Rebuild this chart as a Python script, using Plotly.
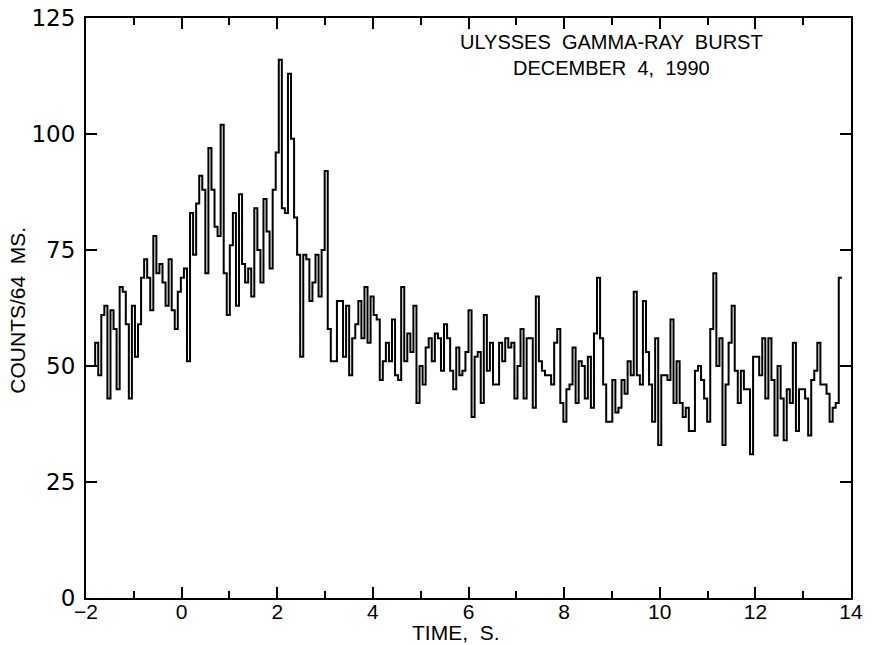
import plotly.graph_objects as go

# 64 ms bin counts (bins start at T0 = -2 s)
t0 = -2.0
bin_width = 0.064
counts = [
    50, 50, 50, 55, 48, 61, 63, 43, 62, 58, 45, 67, 66, 59, 43, 63, 52, 59, 69, 73,
    69, 62, 78, 70, 72, 68, 63, 73, 62, 58, 66, 69, 71,
    51, 83, 74, 85, 91, 88, 70, 97, 88, 80, 78, 102, 70, 61, 76, 83, 63, 87, 72, 68,
    71, 65, 84, 75, 68, 86, 79, 71, 88, 96, 116,
    84, 83, 113, 99, 82, 74, 52, 74, 73, 64, 68, 74, 65, 75, 92, 58, 51, 51, 64, 64,
    52, 63, 48, 56, 59, 64, 56, 67, 55, 65,
    61, 60, 47, 51, 55, 51, 60, 48, 47, 67, 51, 57, 53, 63, 42, 50, 46, 54, 56, 51,
    57, 56, 49, 59, 56, 49, 45, 54, 48, 49, 53, 62,
    39, 52, 53, 42, 61, 49, 55, 46, 46, 55, 51, 56, 54, 55, 43, 50, 58, 43, 56, 56,
    41, 65, 51, 49, 48, 48, 46, 55, 58, 42,
    38, 45, 46, 54, 42, 51, 50, 43, 52, 41, 57, 69, 56, 46, 38, 38, 47, 40, 41, 47,
    44, 51, 48, 66, 48, 46, 64, 53, 46, 38, 56,
    33, 48, 48, 47, 60, 42, 51, 42, 39, 41, 36, 36, 49, 50, 47, 43, 38, 58, 70, 50,
    56, 33, 46, 55, 63, 49, 42, 49, 45, 45, 31, 52,
    52, 48, 56, 43, 56, 47, 35, 50, 43, 34, 45, 42, 55, 36, 45, 45, 43, 35, 47, 49,
    55, 46, 46, 44, 38, 41, 42, 69,
]

x_ticks = [-2, 0, 2, 4, 6, 8, 10, 12, 14]
y_ticks = [0, 25, 50, 75, 100, 125]
title_lines = ["ULYSSES\u00a0\u00a0GAMMA-RAY\u00a0\u00a0BURST", "DECEMBER\u00a0\u00a04,\u00a0\u00a01990"]
x_title = "TIME,\u00a0\u00a0S."
y_title = "COUNTS/64\u00a0\u00a0MS."

times = [t0 + i * bin_width for i in range(len(counts) + 1)]
values = counts + [counts[-1]]

FONT = "Liberation Sans"

fig = go.Figure()
fig.add_trace(go.Scatter(
    x=times, y=values, mode="lines", line=dict(shape="hv", color="black", width=2),
    showlegend=False, hoverinfo="skip",
))

fig.add_annotation(
    x=9, y=117.1, xref="x", yref="y", showarrow=False, align="center",
    xanchor="center", yanchor="middle",
    text="<br>".join(title_lines), font=dict(family=FONT, size=20, color="black"),
)

fig.add_annotation(
    x=0.4837, y=-0.059, xref="paper", yref="paper", showarrow=False,
    xanchor="center", yanchor="middle",
    text=x_title, font=dict(family=FONT, size=21, color="black"),
)
fig.add_annotation(
    x=-0.089, y=0.497, xref="paper", yref="paper", showarrow=False, textangle=-90,
    xanchor="center", yanchor="middle",
    text=y_title, font=dict(family=FONT, size=21, color="black"),
)

fig.update_xaxes(
    range=[-2, 14], tickvals=x_ticks,
    ticktext=[("−" + str(-v)) if v < 0 else str(v) for v in x_ticks],
    ticks="inside", ticklen=11, tickwidth=1.5, tickcolor="black",
    minor=dict(dtick=1, tick0=0, ticks="inside", ticklen=7, tickwidth=1.5, tickcolor="black"),
    showline=True, linecolor="black", linewidth=2, mirror="allticks",
    showgrid=False, zeroline=False, automargin=False,
    tickfont=dict(family=FONT, size=21, color="black"),
    ticklabelstandoff=-6,
)
fig.update_yaxes(
    range=[0, 125], tickvals=y_ticks,
    ticks="inside", ticklen=11, tickwidth=1.5, tickcolor="black",
    showline=True, linecolor="black", linewidth=2, mirror="allticks",
    showgrid=False, zeroline=False, automargin=False,
    tickfont=dict(family="DejaVu Sans", size=23, color="black"),
    ticklabelstandoff=4,
)

fig.update_layout(
    width=874, height=645,
    margin=dict(l=86, r=23, t=18, b=47),
    paper_bgcolor="white", plot_bgcolor="white",
)

fig.write_html("out.html")
